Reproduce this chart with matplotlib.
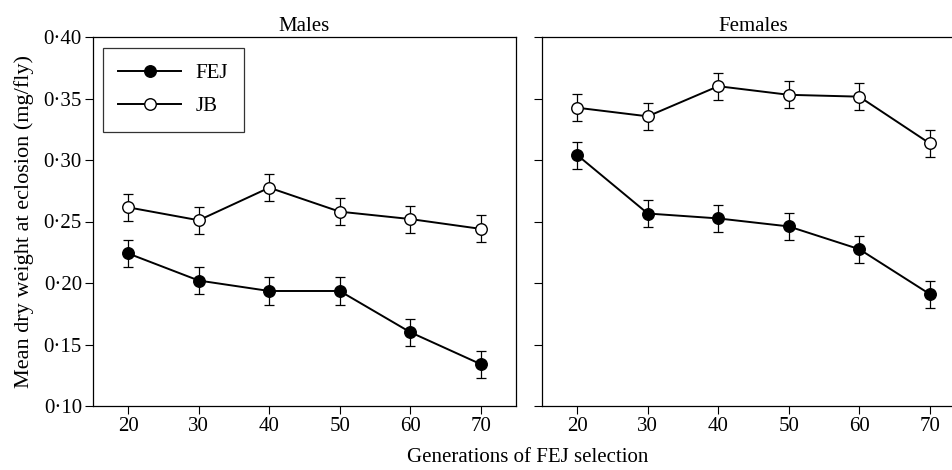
import matplotlib
matplotlib.use("Agg")
import matplotlib.pyplot as plt
from matplotlib.ticker import FuncFormatter

plt.rcParams["font.family"] = ["Liberation Serif", "DejaVu Serif"]

generations = [20, 30, 40, 50, 60, 70]

# Males
male_fej = [0.224, 0.202, 0.1935, 0.1935, 0.160, 0.134]
male_fej_se = [0.011, 0.011, 0.011, 0.011, 0.011, 0.011]
male_jb = [0.2615, 0.251, 0.2775, 0.258, 0.252, 0.244]
male_jb_se = [0.011, 0.011, 0.011, 0.011, 0.011, 0.011]

# Females
female_fej = [0.304, 0.2565, 0.2525, 0.246, 0.2275, 0.191]
female_fej_se = [0.011, 0.011, 0.011, 0.011, 0.011, 0.011]
female_jb = [0.3425, 0.3355, 0.360, 0.353, 0.3515, 0.3135]
female_jb_se = [0.011, 0.011, 0.011, 0.011, 0.011, 0.011]

W, H = 953, 470
fig = plt.figure(figsize=(W / 100, H / 100), dpi=100)
ax1 = fig.add_axes([93 / W, (H - 406) / H, (516 - 93) / W, (406 - 37) / H])
ax2 = fig.add_axes([542 / W, (H - 406) / H, (965 - 542) / W, (406 - 37) / H])

bar_style = dict(fmt="none", ecolor="black", capsize=3.6, elinewidth=0.9,
                 capthick=0.9, zorder=2)
line_style = dict(color="black", lw=1.4, marker="o", ms=8.3, mec="black",
                  mew=1.0, zorder=3)

for ax, fej, fej_se, jb, jb_se, title in [
    (ax1, male_fej, male_fej_se, male_jb, male_jb_se, "Males"),
    (ax2, female_fej, female_fej_se, female_jb, female_jb_se, "Females"),
]:
    ax.errorbar(generations, fej, yerr=fej_se, **bar_style)
    ax.errorbar(generations, jb, yerr=jb_se, **bar_style)
    ax.plot(generations, fej, mfc="black", label="FEJ", **line_style)
    ax.plot(generations, jb, mfc="white", label="JB", **line_style)
    ax.set_xlim(15, 75)
    ax.set_ylim(0.10, 0.40)
    ax.set_xticks(generations)
    ax.set_yticks([0.10, 0.15, 0.20, 0.25, 0.30, 0.35, 0.40])
    ax.tick_params(direction="out", length=6, width=0.8, labelsize=15, pad=2)
    ax.set_title(title, fontsize=15, pad=4)
    for s in ax.spines.values():
        s.set_linewidth(0.9)

ax1.yaxis.set_major_formatter(FuncFormatter(lambda v, p: f"{v:.2f}".replace(".", "\u00b7")))
ax2.tick_params(labelleft=False)
ax2.spines["right"].set_visible(False)

ax1.set_ylabel("Mean dry weight at eclosion (mg/fly)", fontsize=16, labelpad=7)
leg = ax1.legend(loc="upper left", fontsize=15, frameon=True, fancybox=False,
                 edgecolor="black", borderpad=0.75, handlelength=3.0,
                 handletextpad=0.7, labelspacing=0.65, borderaxespad=0,
                 bbox_to_anchor=(0.023, 0.970))
leg.get_frame().set_linewidth(0.9)

fig.text(528 / W, 1 - 457 / H, "Generations of FEJ selection", ha="center",
         va="center", fontsize=15)

fig.savefig("out.png", dpi=100)
